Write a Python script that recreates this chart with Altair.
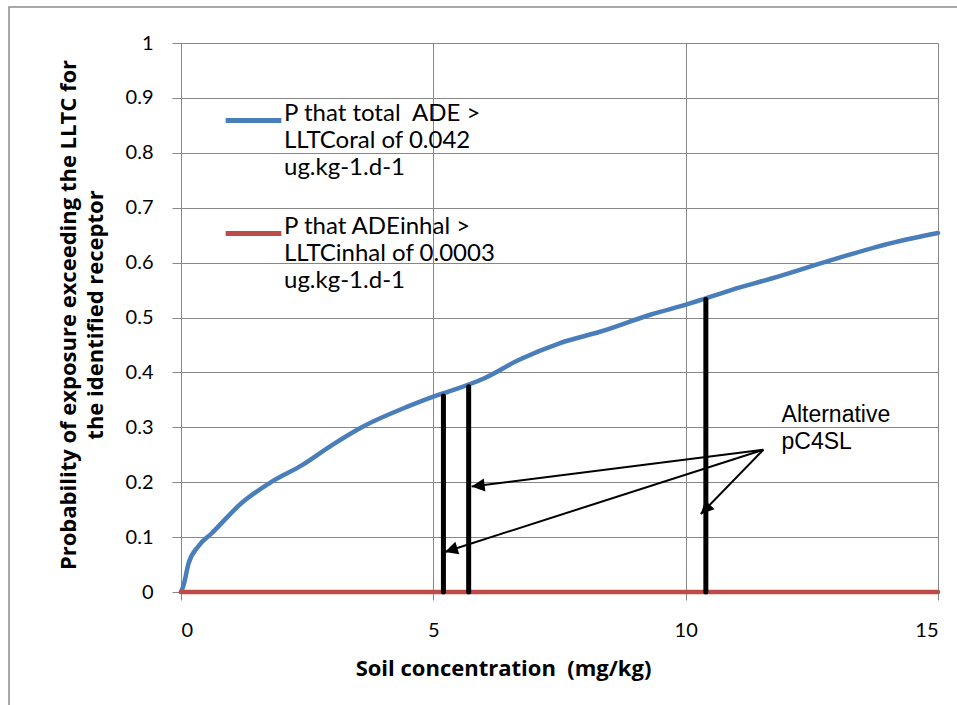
import math
import altair as alt
import pandas as pd

# Probability that the total ADE exceeds the oral LLTC, by soil concentration
conc_oral = [0, 0.05, 0.15, 0.34, 0.61, 1.2, 1.8, 2.4, 3.0, 3.6, 4.5, 5.1, 5.3,
             6.0, 6.7, 7.5, 8.3, 9.3, 10.1, 10.3, 10.9, 11.7, 12.9, 14.05, 15]
prob_oral = [0, 0.012, 0.052, 0.083, 0.107, 0.162, 0.201, 0.231, 0.268, 0.301,
             0.338, 0.359, 0.365, 0.389, 0.423, 0.453, 0.474, 0.505, 0.526, 0.532,
             0.550, 0.571, 0.605, 0.635, 0.654]

# Probability that the inhaled ADE exceeds the inhalation LLTC (zero throughout)
conc_inhal = [0, 15]
prob_inhal = [0, 0]

NBSP = "\u00a0"
series_names = [
    f"P that total {NBSP}ADE >|LLTCoral of 0.042|ug.kg-1.d-1",
    "P that ADEinhal >|LLTCinhal of 0.0003|ug.kg-1.d-1",
]
series_colors = ["#4A7EBB", "#BE4B48"]

# Alternative pC4SL values and the probability reached at each
pc4sl = [5.2, 5.7, 10.4]
pc4sl_prob = [0.357, 0.374, 0.533]

# Annotation: callout text and arrows pointing to each pC4SL
note_text = ["Alternative", "pC4SL"]
note_pos = (11.9, 0.31)
arrow_origin = (11.54, 0.259)
arrow_tip_x = [5.76, 5.23, 10.30]
arrow_tip_y = [0.192, 0.073, 0.142]

W, H = 757, 549
X_MAX = 15
FONT = "Lato"
TITLE_FONT = "Open Sans"
GRID = "#878787"

curves = pd.DataFrame({
    "conc": conc_oral + conc_inhal,
    "prob": prob_oral + prob_inhal,
    "series": [series_names[0]] * len(conc_oral) + [series_names[1]] * len(conc_inhal),
})

x_scale = alt.Scale(domain=[0, X_MAX], nice=False, zero=True)
y_scale = alt.Scale(domain=[0, 1], nice=False)

x_axis = alt.Axis(
    values=[0, 5, 10, 15], grid=True, gridColor=GRID, gridWidth=1,
    domainColor=GRID, tickColor=GRID, tickSize=8, labelPadding=20,
    labelFont=FONT, labelFontSize=20, labelColor="#000000",
    title=f"Soil concentration {NBSP}(mg/kg)", titleFont=TITLE_FONT, titleFontSize=22,
    titleFontWeight="bold", titleColor="#000000",
    titleX=322, titleY=83, titleAlign="center", titleBaseline="alphabetic",
)
y_axis = alt.Axis(
    values=[round(i * 0.1, 1) for i in range(11)], format="~g",
    grid=True, gridColor=GRID, gridWidth=1,
    domainColor=GRID, tickColor=GRID, tickSize=9, labelPadding=19,
    labelFont=FONT, labelFontSize=20, labelColor="#000000",
    title=["Probability of exposure exceeding the LLTC for", "the identified receptor"],
    titleFont=TITLE_FONT, titleFontSize=22, titleFontWeight="bold", titleColor="#000000",
    titleAngle=270, titleX=-106, titleY=H / 2 - 3, titleAlign="center",
    titleBaseline="alphabetic", titleLineHeight=27,
)

lines = alt.Chart(curves).mark_line(
    strokeWidth=4.5, strokeCap="round", interpolate="monotone",
).encode(
    x=alt.X("conc:Q", scale=x_scale, axis=x_axis),
    y=alt.Y("prob:Q", scale=y_scale, axis=y_axis),
    color=alt.Color(
        "series:N",
        scale=alt.Scale(domain=series_names, range=series_colors),
        legend=alt.Legend(
            title=None, orient="none", legendX=42, legendY=47,
            symbolType="stroke", symbolSize=3100, symbolStrokeWidth=5,
            labelFont=FONT, labelFontSize=24, labelColor="#000000",
            labelExpr="split(datum.label, '|')", labelBaseline="alphabetic",
            labelOffset=0, rowPadding=23, labelLimit=400,
        ),
    ),
)

bars_df = pd.DataFrame({"conc": pc4sl, "prob": pc4sl_prob, "base": [0.0] * len(pc4sl)})
bars = alt.Chart(bars_df).mark_rule(color="#000000", strokeWidth=5, strokeCap="round").encode(
    x="conc:Q", y="base:Q", y2="prob:Q",
)

# Arrow shafts and heads; head angles follow the on-screen direction
px_x = W / X_MAX
px_y = H
angles = []
for tx, ty in zip(arrow_tip_x, arrow_tip_y):
    dx = (tx - arrow_origin[0]) * px_x
    dy = -(ty - arrow_origin[1]) * px_y
    angles.append(math.degrees(math.atan2(dx, -dy)) % 360)

arrows_df = pd.DataFrame({
    "x0": [arrow_origin[0]] * len(arrow_tip_x),
    "y0": [arrow_origin[1]] * len(arrow_tip_x),
    "x1": arrow_tip_x,
    "y1": arrow_tip_y,
    "angle": angles,
})
shafts = alt.Chart(arrows_df).mark_rule(color="#000000", strokeWidth=2).encode(
    x="x0:Q", y="y0:Q", x2="x1:Q", y2="y1:Q",
)
heads = alt.Chart(arrows_df).mark_point(
    shape="M0,0 L-0.5,1 L0.5,1 Z", filled=True, color="#000000", opacity=1, size=676,
).encode(
    x="x1:Q", y="y1:Q", angle=alt.Angle("angle:Q", scale=None),
)

note_df = pd.DataFrame({"x": [note_pos[0]], "y": [note_pos[1]], "t": ["\n".join(note_text)]})
note = alt.Chart(note_df).mark_text(
    font="Liberation Sans", fontSize=23, align="left", baseline="alphabetic",
    lineHeight=27, color="#000000", lineBreak="\n",
).encode(x="x:Q", y="y:Q", text="t:N")

frame = alt.Chart(pd.DataFrame({"k": [0]})).mark_rect(
    fillOpacity=0, stroke="#8c8c8c", strokeWidth=1.5,
).encode(
    x=alt.value(-172), x2=alt.value(900), y=alt.value(-36), y2=alt.value(800),
)

chart = alt.layer(frame, lines, bars, shafts, heads, note).properties(
    width=W, height=H,
    autosize=alt.AutoSizeParams(type="none"),
    padding={"left": 181, "top": 43, "right": 19, "bottom": 113},
    background="#ffffff",
).configure_view(strokeWidth=0).configure(
    style={"guide-label": {"lineHeight": 27}},
)

chart.save("out.html", embed_options={"renderer": "svg", "actions": False})
